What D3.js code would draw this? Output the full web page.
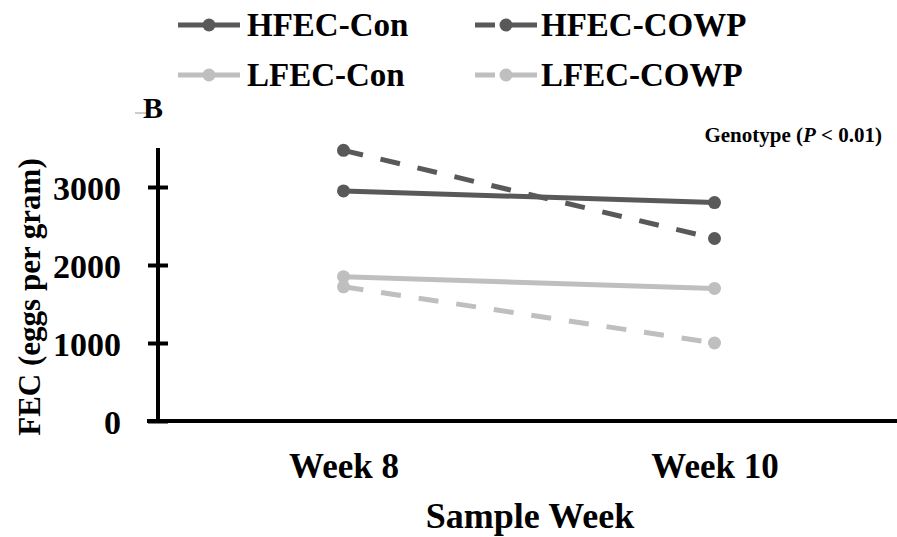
<!DOCTYPE html>
<html>
<head>
<meta charset="utf-8">
<script src="https://cdn.jsdelivr.net/npm/d3@7"></script>
<style>
  body { margin: 0; background: #fff; }
  svg { display: block; font-family: "Liberation Serif", "Times New Roman", serif; font-weight: bold; }
</style>
</head>
<body>
<svg id="drawing_region"></svg>
<script>
// data
const weeks = ["Week 8", "Week 10"];
const seriesNames = ["HFEC-Con", "HFEC-COWP", "LFEC-Con", "LFEC-COWP"];
const hfecCon = [2950, 2800];
const hfecCowp = [3470, 2340];
const lfecCon = [1850, 1700];
const lfecCowp = [1720, 1000];
const yTicks = [0, 1000, 2000, 3000];

const dark = "#595959";
const light = "#bfbfbf";

const series = [
    { name: seriesNames[0], values: hfecCon, color: dark, dashed: false },
    { name: seriesNames[1], values: hfecCowp, color: dark, dashed: true },
    { name: seriesNames[2], values: lfecCon, color: light, dashed: false },
    { name: seriesNames[3], values: lfecCowp, color: light, dashed: true }
];

const width = 897, height = 537;
const svg = d3.select("#drawing_region")
    .attr("width", width)
    .attr("height", height);

const xscale = d3.scalePoint().domain(weeks).range([158, 900]).padding(0.5);
const yscale = d3.scaleLinear().domain([0, 3500]).range([421, 148]);

// y axis, ticks cross the line
const yaxis = d3.axisLeft(yscale).tickValues(yTicks).tickSize(10).tickFormat(d3.format("d"));
const yg = svg.append("g")
    .attr("transform", "translate(158,0)")
    .call(yaxis);
yg.select(".domain").remove();
yg.selectAll(".tick line")
    .attr("x1", -10).attr("x2", 10)
    .attr("stroke", "#000").attr("stroke-width", 4);
yg.selectAll(".tick text")
    .attr("x", -37)
    .attr("dy", "0.36em")
    .attr("font-size", 34)
    .attr("font-family", "Liberation Serif")
    .attr("font-weight", "bold")
    .attr("fill", "#000");
yg.append("line")
    .attr("x1", 0).attr("x2", 0)
    .attr("y1", yscale.range()[1]).attr("y2", yscale.range()[0] + 2)
    .attr("stroke", "#000").attr("stroke-width", 4);

// x axis
const xaxis = d3.axisBottom(xscale).tickSize(0);
const xg = svg.append("g")
    .attr("transform", "translate(0,421)")
    .call(xaxis);
xg.select(".domain").remove();
xg.append("line")
    .attr("x1", 147).attr("x2", 900)
    .attr("stroke", "#000").attr("stroke-width", 4);
xg.selectAll(".tick text")
    .attr("y", 57)
    .attr("dy", 0)
    .attr("font-size", 35)
    .attr("font-family", "Liberation Serif")
    .attr("font-weight", "bold")
    .attr("fill", "#000");

// axis titles
svg.append("text")
    .attr("transform", "translate(40,297) rotate(-90)")
    .attr("text-anchor", "middle")
    .attr("font-size", 31)
    .text("FEC (eggs per gram)");

svg.append("text")
    .attr("x", 530).attr("y", 528)
    .attr("text-anchor", "middle")
    .attr("font-size", 36)
    .text("Sample Week");

// panel letter
svg.append("line")
    .attr("x1", 135).attr("x2", 148)
    .attr("y1", 113).attr("y2", 113)
    .attr("stroke", "#999").attr("stroke-width", 1);
svg.append("text")
    .attr("x", 143).attr("y", 118)
    .attr("font-size", 30)
    .text("B");

// annotation
const ann = svg.append("text")
    .attr("x", 882).attr("y", 142)
    .attr("text-anchor", "end")
    .attr("font-size", 21);
ann.append("tspan").text("Genotype (");
ann.append("tspan").attr("font-style", "italic").text("P");
ann.append("tspan").text(" < 0.01)");

// lines
const line = d3.line()
    .x((d, i) => xscale(weeks[i]))
    .y(d => yscale(d));

const groups = svg.selectAll(".series")
    .data(series)
    .enter()
    .append("g")
    .attr("class", "series");

groups.append("path")
    .attr("d", d => line(d.values))
    .attr("fill", "none")
    .attr("stroke", d => d.color)
    .attr("stroke-width", 5)
    .attr("stroke-dasharray", d => d.dashed ? "20,18" : null);

groups.selectAll("circle")
    .data(d => d.values.map((v, i) => ({ v: v, i: i, color: d.color })))
    .enter()
    .append("circle")
    .attr("cx", d => xscale(weeks[d.i]))
    .attr("cy", d => yscale(d.v))
    .attr("r", 6.5)
    .attr("fill", d => d.color);

// legend
const legendPos = [
    { x: 178, y: 25 }, { x: 475, y: 25 },
    { x: 178, y: 75 }, { x: 475, y: 75 }
];
const legend = svg.selectAll(".legend")
    .data(series)
    .enter()
    .append("g")
    .attr("class", "legend")
    .attr("transform", (d, i) => `translate(${legendPos[i].x},${legendPos[i].y})`);

legend.append("line")
    .attr("x1", 0).attr("x2", 62)
    .attr("stroke", d => d.color)
    .attr("stroke-width", 5)
    .attr("stroke-dasharray", d => d.dashed ? "20,10,32" : null);
legend.append("circle")
    .attr("cx", 31).attr("r", 6.5)
    .attr("fill", d => d.color);
legend.append("text")
    .attr("x", d => d.dashed ? 66 : 69)
    .attr("y", 11)
    .attr("font-size", 33)
    .text(d => d.name);
</script>
</body>
</html>
